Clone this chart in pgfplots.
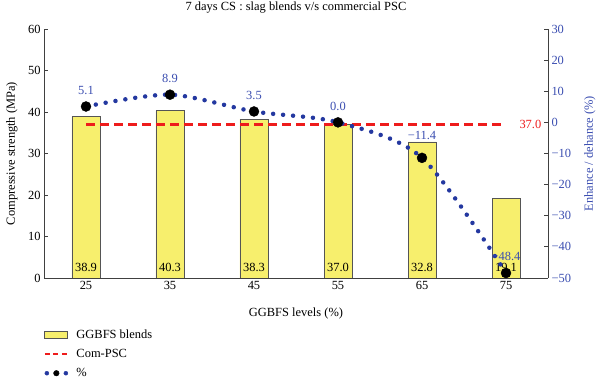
\documentclass[border=0pt]{standalone}
\usepackage{fontspec}
\setmainfont{Liberation Serif}
\usepackage{pgfplots}
\pgfplotsset{compat=1.18}
\definecolor{baryellow}{HTML}{F7EF6D}
\definecolor{baredge}{HTML}{555555}
\definecolor{axgray}{HTML}{404040}
\definecolor{dotblue}{HTML}{2438A0}
\definecolor{txtblue}{HTML}{3A4DB0}
\definecolor{comred}{HTML}{EE1C1C}
\newcommand{\ff}{\fontsize{12.5}{14.5}\selectfont}
\begin{document}
\begin{tikzpicture}
\path[use as bounding box] (0,0) rectangle (600bp,380bp);
\begin{axis}[
  at={(44bp,102bp)}, anchor=south west,
  scale only axis, width=504bp, height=249bp,
  xmin=20, xmax=80, ymin=0, ymax=60,
  xtick={25,35,45,55,65,75},
  ytick={0,10,20,30,40,50,60},
  axis x line*=bottom, axis y line*=left,
  axis line style={axgray, line width=0.8bp, -},
  tick style={axgray, line width=0.8bp},
  major tick length=4bp,
  tick align=inside,
  /pgf/number format/assume math mode=true,
  tick label style={font=\ff, black},
  title={7 days CS : slag blends v/s commercial PSC},
  title style={at={(axis description cs:0.5,1)}, anchor=base, yshift=13bp, font=\ff},
  xlabel={GGBFS levels (\%)},
  xlabel style={at={(axis description cs:0.5,0)}, anchor=base, yshift=-38bp, font=\ff},
  ylabel={Compressive strength (MPa)},
  ylabel style={at={(axis description cs:-0.0635,0.5)}, anchor=center, font=\ff},
  legend style={at={(axis description cs:0,-0.19)}, anchor=north west, draw=none, fill=none,
    font=\ff, inner xsep=0pt, row sep=5.5bp, column sep=6bp},
  legend cell align=left,
]
\addplot[ybar, bar width=28bp, fill=baryellow, draw=baredge, line width=0.7bp, forget plot]
  coordinates {(25,38.9) (35,40.3) (45,38.3) (55,37.0) (65,32.8) (75,19.1)};
\addplot[only marks, mark=none, forget plot, point meta=explicit symbolic,
  nodes near coords, nodes near coords style={anchor=base, yshift=7bp, inner sep=0pt, black, font=\ff}]
  coordinates {(25,0)[38.9] (35,0)[40.3] (45,0)[38.3] (55,0)[37.0] (65,0)[32.8] (75,0)[19.1]};
\addplot[comred, line width=2.4bp, dash pattern=on 9bp off 5bp, forget plot]
  coordinates {(25,37.0) (75,37.0)}
  node[pos=1, anchor=west, xshift=9bp, text=comred, font=\ff] {37.0};
\addlegendimage{legend image code/.code={\draw[fill=baryellow, draw=baredge, line width=0.7bp] (0bp,-3.5bp) rectangle (23bp,3.5bp);}}
\addlegendentry{GGBFS blends}
\addlegendimage{legend image code/.code={\draw[draw=comred, line width=1.3bp, dash pattern=on 5bp off 3.5bp] (0bp,0bp) -- (23bp,0bp);}}
\addlegendentry{Com-PSC}
\addlegendimage{legend image code/.code={
  \fill[dotblue] (2bp,0bp) circle (2bp);
  \fill[black] (11.5bp,0bp) circle (2.8bp);
  \fill[dotblue] (21bp,0bp) circle (2bp);}}
\addlegendentry{\%}
\end{axis}
\begin{axis}[
  at={(44bp,102bp)}, anchor=south west,
  scale only axis, width=504bp, height=249bp,
  xmin=20, xmax=80, ymin=-50, ymax=30,
  ytick={-50,-40,-30,-20,-10,0,10,20,30},
  axis x line=none, axis y line*=right,
  axis line style={axgray, line width=0.8bp, -},
  tick style={axgray, line width=0.8bp},
  major tick length=4bp,
  tick align=inside,
  /pgf/number format/assume math mode=true,
  yticklabel style={font=\ff, text=txtblue},
  yticklabel={\pgfmathparse{\tick}\ifdim\pgfmathresult pt<0pt −\pgfmathparse{abs(\tick)}\pgfmathprintnumber{\pgfmathresult}\else\pgfmathprintnumber{\tick}\fi},
  ylabel={Enhance / dehance (\%)},
  ylabel style={at={(axis description cs:1.0833,0.5)}, anchor=center, text=txtblue, font=\ff},
]
\addplot[dotblue, line width=4.5bp, line cap=round, dash pattern=on 0bp off 10bp, smooth]
  coordinates {(25,5.1) (35,8.9) (45,3.5) (55,0.0) (65,-11.4) (75,-48.4)};
\addplot[only marks, mark=*, mark size=5bp, mark options={fill=black, draw=black},
  visualization depends on={\thisrow{dy} \as \dy},
  point meta=explicit symbolic,
  nodes near coords,
  nodes near coords style={anchor=base, yshift=\dy bp, inner sep=0pt, text=txtblue, font=\ff}]
  table[meta=lab] {
x y lab dy
25 5.1 5.1 12
35 8.9 8.9 12
45 3.5 3.5 12
55 0.0 0.0 12
65 -11.4 −11.4 18
75 -48.4 −48.4 13
};
\end{axis}
\end{tikzpicture}
\end{document}
